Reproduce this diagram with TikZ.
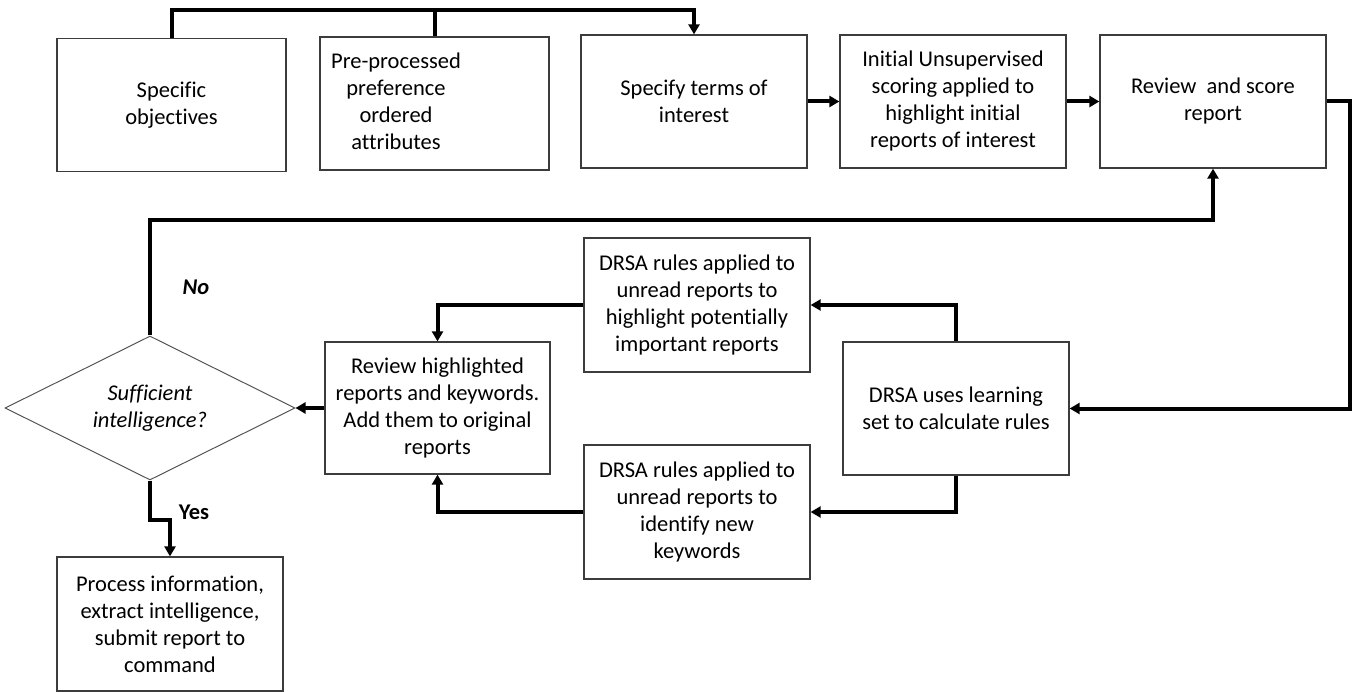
\documentclass[tikz,border=0pt]{standalone}
\usepackage{fontspec}
\setmainfont{Carlito}[Ligatures=NoCommon]
\usetikzlibrary{arrows.meta,shapes.geometric}
\definecolor{boxgray}{HTML}{3C3C3C}
\definecolor{diagray}{HTML}{555555}
\begin{document}
\begin{tikzpicture}[x=1pt,y=-1pt,
  txt/.style={font=\fontsize{22.5}{27}\selectfont, align=center, text=black},
  box/.style={txt, draw=boxgray, line width=1.3pt, minimum width=226, minimum height=133, inner sep=0pt},
  wbox/.style={box, minimum width=229},
  dec/.style={txt, draw=diagray, line width=1pt, diamond, aspect=2.0139, minimum width=290, minimum height=144, inner sep=0pt},
  conn/.style={line width=4pt, black},
  arr/.style={conn, -{Triangle[length=10pt,width=11pt]}},
  lab/.style={font=\fontsize{22.5}{27}\selectfont\bfseries}
]
\useasboundingbox (0,0) rectangle (1357,692);
% top row
\node[wbox] (b1) at (171.5,105) {Specific\\objectives};
\node[wbox] (b2) at (434.5,103.5) {};
\node[txt] (b2t) at (396,101.5) {Pre-processed\\preference\\ordered\\attributes};
\node[box] (b3) at (694,101.5) {Specify terms of\\interest};
\node[box] (b4) at (953,101.5) {Initial Unsupervised\\scoring applied to\\highlight initial\\reports of interest};
\node[box] (b5) at (1213,101.5) {Review~ and score\\report};
% middle
\node[dec] (dia) at (150,408) {\itshape Sufficient\\\itshape intelligence?};
\node[box, minimum width=225, minimum height=132] (rev) at (437.5,408) {Review highlighted\\reports and keywords.\\Add them to original\\reports};
\node[box, minimum height=134] (drt) at (697,305) {DRSA rules applied to\\unread reports to\\highlight potentially\\important reports};
\node[box] (use) at (956,408.5) {DRSA uses learning\\set to calculate rules};
\node[box, minimum height=134] (drb) at (697,512) {DRSA rules applied to\\unread reports to\\identify new\\keywords};
\node[box, minimum height=134] (proc) at (170,624) {Process information,\\extract intelligence,\\submit report to\\command};
% helper coordinates
\coordinate (topy) at (0,10);
\coordinate (rightx) at (1350,0);
\coordinate (noy) at (0,220);
% connectors
\draw[arr] (b1.north) -- (b1.north |- topy) -| (b3.north);
\draw[conn] (b2.north) -- (b2.north |- topy);
\draw[arr] (b3.east) -- (b4.west);
\draw[arr] (b4.east) -- (b5.west);
\draw[arr] (b5.east) -- (b5.east -| rightx) |- (use.east);
\draw[arr] (use.north) |- (drt.east);
\draw[arr] (use.south) |- (drb.east);
\draw[arr] (drt.west) -| (rev.north);
\draw[arr] (drb.west) -| (rev.south);
\draw[arr] (rev.west) -- (dia.east);
\draw[arr] (dia.north) -- (dia.north |- noy) -| (b5.south);
\draw[arr] (dia.south) -- ++(0,39) -| (proc.north);
% labels
\node[lab, font=\fontsize{22.5}{27}\selectfont\bfseries\itshape] (no) at (196,287) {No};
\node[lab] (yes) at (194,512) {Yes};
\end{tikzpicture}
\end{document}
